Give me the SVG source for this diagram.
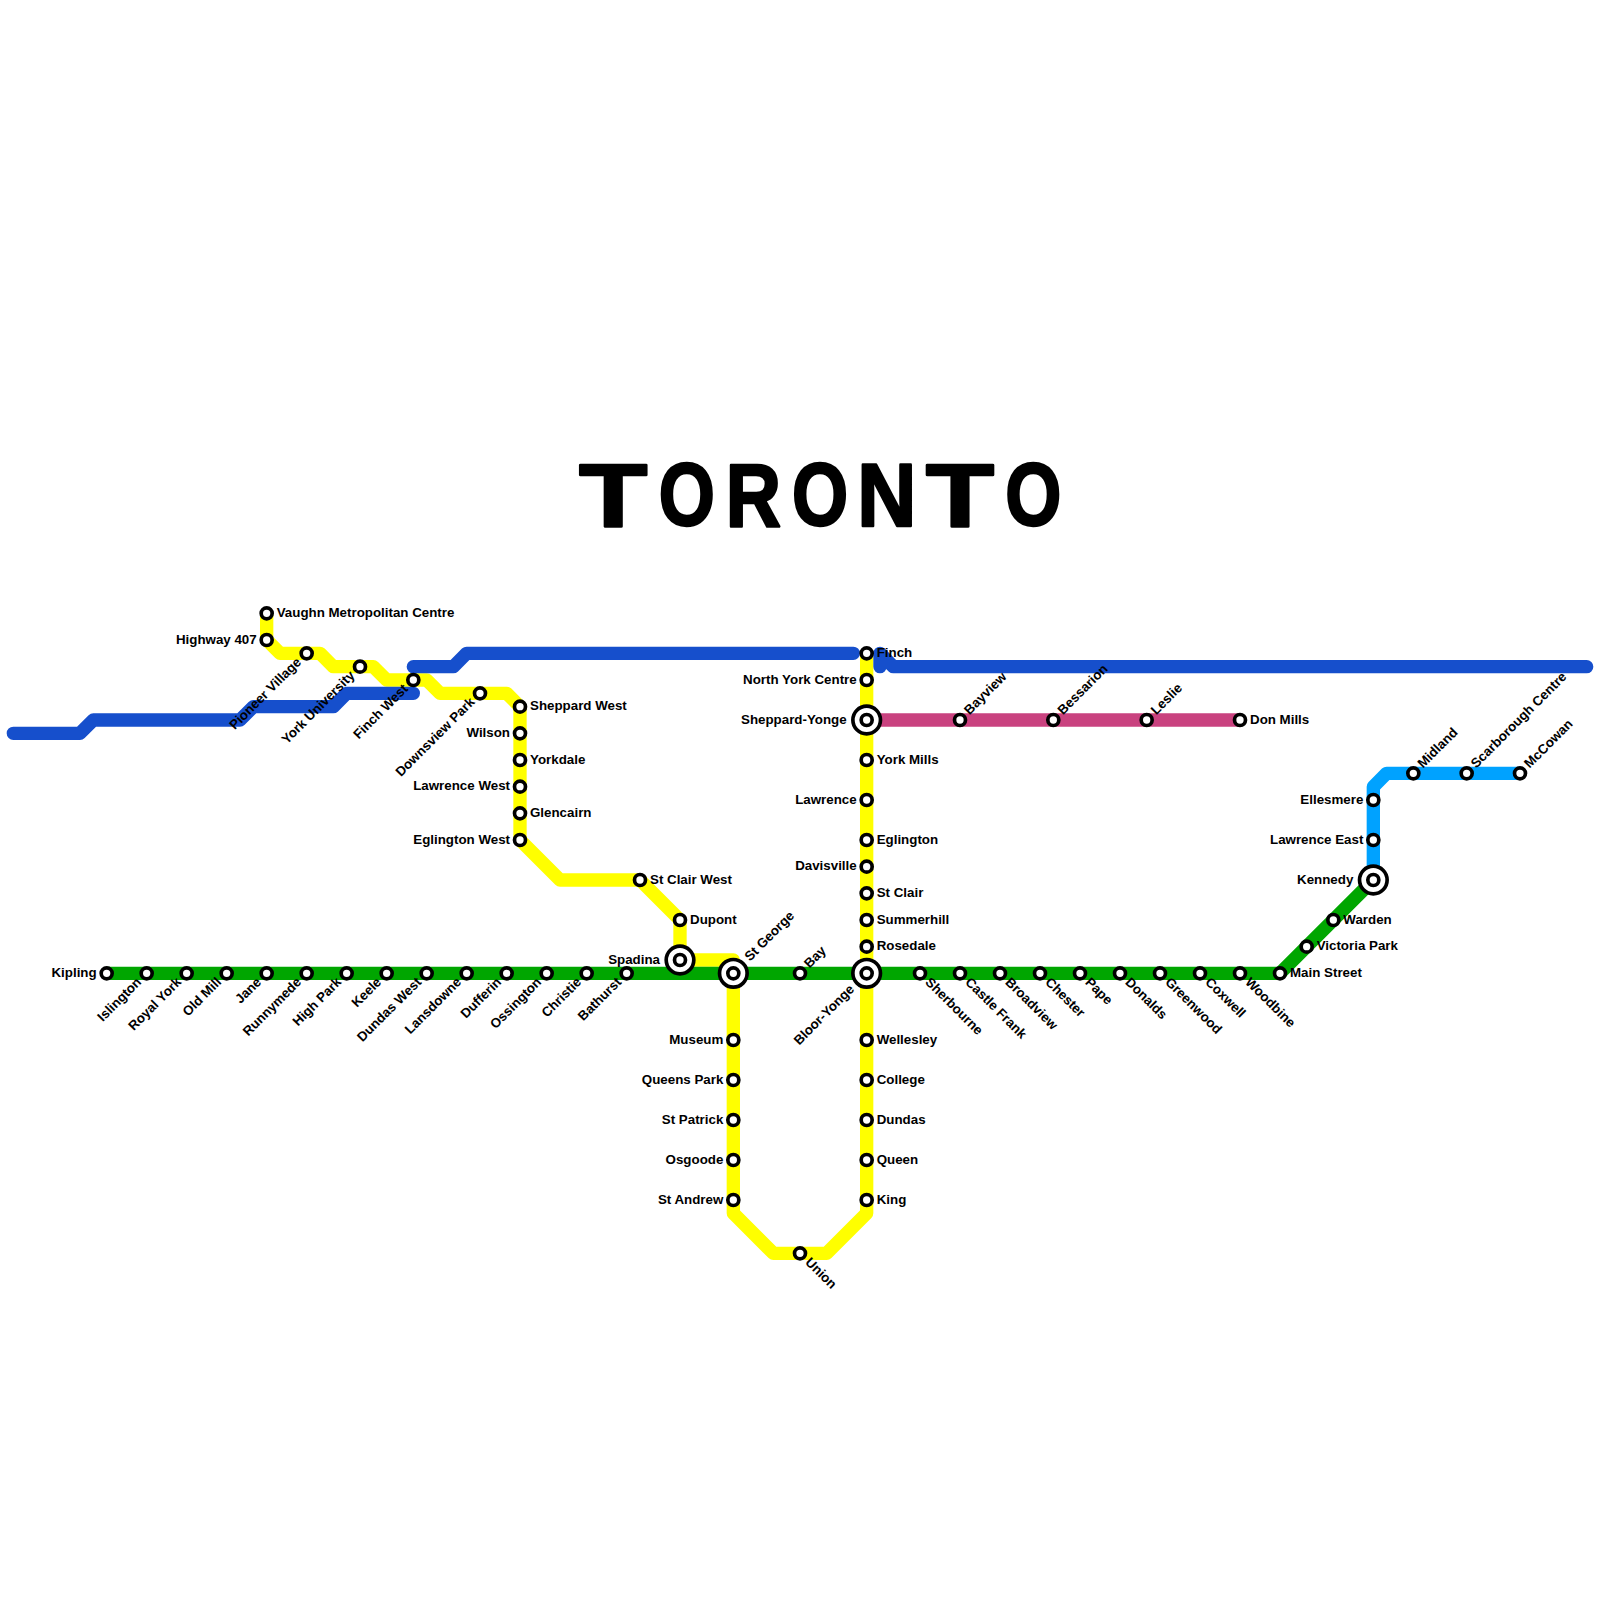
<svg xmlns="http://www.w3.org/2000/svg" width="1600" height="1600" viewBox="0 0 1600 1600">
<style>
.ln{fill:none;stroke-width:1;stroke-linejoin:round}
.st{fill:#fff;stroke:#000;stroke-width:3.67}
.l0{fill:#fff;stroke:#000;stroke-width:3.67}
text{font-family:"Liberation Sans",Arial,sans-serif;font-weight:bold;font-size:13.33px;fill:#000}
.e{text-anchor:end}
.title text{font-size:89px;text-anchor:middle;stroke:#000;stroke-width:2.5;stroke-linejoin:round}
</style>
<defs>
<circle id="s" r="5.5" class="st"/>
<g id="x"><circle r="13.8" class="l0"/><circle r="5.5" class="st"/></g>
</defs>
<rect width="1600" height="1600" fill="#fff"/>
<g id="connectors" transform="scale(13.33333)">
<polyline class="ln" stroke="#ffff00" points="20,46 20,48 21,49 24,49 25,50 28,50 29,51 32,51 33,52 38,52 39,53 39,63 42,66 48,66 51,69 51,72 55,72 55,91 58,94 62,94 65,91 65,49"/>
<polyline class="ln" stroke="#00a600" points="8,73 96,73 103,66"/>
<polyline class="ln" stroke="#c9427f" points="65,54 93,54"/>
<polyline class="ln" stroke="#00a2ff" points="103,66 103,59 104,58 114,58"/>
<polyline class="ln" stroke="#164fcc" stroke-linecap="round" points="1,55 6,55 7,54 18,54 19,53 25,53 26,52 31,52"/>
<polyline class="ln" stroke="#164fcc" stroke-linecap="round" points="31,50 34,50 35,49 64,49"/>
<polyline class="ln" stroke="#164fcc" stroke-linecap="round" points="66,50 66,49 67,50 119,50"/>
</g>
<g id="title" class="title">
<text transform="translate(613.3,525.5) scale(1.25,1)">T</text>
<text transform="translate(686.7,525) scale(.81,1)">O</text>
<text transform="translate(753.3,525.5) scale(.86,1)">R</text>
<text transform="translate(820,525) scale(.81,1)">O</text>
<text transform="translate(886.7,525.5) scale(.92,1)">N</text>
<text transform="translate(960,525.5) scale(1.25,1)">T</text>
<text transform="translate(1033.3,525) scale(.81,1)">O</text>
</g>
<g id="kipling" transform="translate(106.67,973.33)"><use href="#s"/><text class="e" x="-10" y="3.5">Kipling</text></g>
<g id="islington" transform="translate(146.67,973.33)"><use href="#s"/><text class="e" x="-10" y="3.5" transform="rotate(-45)">Islington</text></g>
<g id="royal-york" transform="translate(186.67,973.33)"><use href="#s"/><text class="e" x="-10" y="3.5" transform="rotate(-45)">Royal York</text></g>
<g id="old-mill" transform="translate(226.67,973.33)"><use href="#s"/><text class="e" x="-10" y="3.5" transform="rotate(-45)">Old Mill</text></g>
<g id="jane" transform="translate(266.67,973.33)"><use href="#s"/><text class="e" x="-10" y="3.5" transform="rotate(-45)">Jane</text></g>
<g id="runnymede" transform="translate(306.67,973.33)"><use href="#s"/><text class="e" x="-10" y="3.5" transform="rotate(-45)">Runnymede</text></g>
<g id="high-park" transform="translate(346.67,973.33)"><use href="#s"/><text class="e" x="-10" y="3.5" transform="rotate(-45)">High Park</text></g>
<g id="keele" transform="translate(386.67,973.33)"><use href="#s"/><text class="e" x="-10" y="3.5" transform="rotate(-45)">Keele</text></g>
<g id="dundas-west" transform="translate(426.67,973.33)"><use href="#s"/><text class="e" x="-10" y="3.5" transform="rotate(-45)">Dundas West</text></g>
<g id="lansdowne" transform="translate(466.67,973.33)"><use href="#s"/><text class="e" x="-10" y="3.5" transform="rotate(-45)">Lansdowne</text></g>
<g id="dufferin" transform="translate(506.67,973.33)"><use href="#s"/><text class="e" x="-10" y="3.5" transform="rotate(-45)">Dufferin</text></g>
<g id="ossington" transform="translate(546.67,973.33)"><use href="#s"/><text class="e" x="-10" y="3.5" transform="rotate(-45)">Ossington</text></g>
<g id="christie" transform="translate(586.67,973.33)"><use href="#s"/><text class="e" x="-10" y="3.5" transform="rotate(-45)">Christie</text></g>
<g id="bathurst" transform="translate(626.67,973.33)"><use href="#s"/><text class="e" x="-10" y="3.5" transform="rotate(-45)">Bathurst</text></g>
<g id="spadina" transform="translate(680,960)"><use href="#x"/><text class="e" x="-20" y="3.5">Spadina</text></g>
<g id="st-george" transform="translate(733.33,973.33)"><use href="#x"/><text x="20" y="3.5" transform="rotate(-45)">St George</text></g>
<g id="bay" transform="translate(800,973.33)"><use href="#s"/><text x="10" y="3.5" transform="rotate(-45)">Bay</text></g>
<g id="bloor-yonge" transform="translate(866.67,973.33)"><use href="#x"/><text class="e" x="-20" y="3.5" transform="rotate(-45)">Bloor-Yonge</text></g>
<g id="sherbourne" transform="translate(920,973.33)"><use href="#s"/><text x="10" y="3.5" transform="rotate(45)">Sherbourne</text></g>
<g id="castle-frank" transform="translate(960,973.33)"><use href="#s"/><text x="10" y="3.5" transform="rotate(45)">Castle Frank</text></g>
<g id="broadview" transform="translate(1000,973.33)"><use href="#s"/><text x="10" y="3.5" transform="rotate(45)">Broadview</text></g>
<g id="chester" transform="translate(1040,973.33)"><use href="#s"/><text x="10" y="3.5" transform="rotate(45)">Chester</text></g>
<g id="pape" transform="translate(1080,973.33)"><use href="#s"/><text x="10" y="3.5" transform="rotate(45)">Pape</text></g>
<g id="donalds" transform="translate(1120,973.33)"><use href="#s"/><text x="10" y="3.5" transform="rotate(45)">Donalds</text></g>
<g id="greenwood" transform="translate(1160,973.33)"><use href="#s"/><text x="10" y="3.5" transform="rotate(45)">Greenwood</text></g>
<g id="coxwell" transform="translate(1200,973.33)"><use href="#s"/><text x="10" y="3.5" transform="rotate(45)">Coxwell</text></g>
<g id="woodbine" transform="translate(1240,973.33)"><use href="#s"/><text x="10" y="3.5" transform="rotate(45)">Woodbine</text></g>
<g id="main-street" transform="translate(1280,973.33)"><use href="#s"/><text x="10" y="3.5">Main Street</text></g>
<g id="victoria-park" transform="translate(1306.67,946.67)"><use href="#s"/><text x="10" y="3.5">Victoria Park</text></g>
<g id="warden" transform="translate(1333.33,920)"><use href="#s"/><text x="10" y="3.5">Warden</text></g>
<g id="kennedy" transform="translate(1373.33,880)"><use href="#x"/><text class="e" x="-20" y="3.5">Kennedy</text></g>
<g id="lawrence-east" transform="translate(1373.33,840)"><use href="#s"/><text class="e" x="-10" y="3.5">Lawrence East</text></g>
<g id="ellesmere" transform="translate(1373.33,800)"><use href="#s"/><text class="e" x="-10" y="3.5">Ellesmere</text></g>
<g id="midland" transform="translate(1413.33,773.33)"><use href="#s"/><text x="10" y="3.5" transform="rotate(-45)">Midland</text></g>
<g id="scarborough-centre" transform="translate(1466.67,773.33)"><use href="#s"/><text x="10" y="3.5" transform="rotate(-45)">Scarborough Centre</text></g>
<g id="mccowan" transform="translate(1520,773.33)"><use href="#s"/><text x="10" y="3.5" transform="rotate(-45)">McCowan</text></g>
<g id="bayview" transform="translate(960,720)"><use href="#s"/><text x="10" y="3.5" transform="rotate(-45)">Bayview</text></g>
<g id="bessarion" transform="translate(1053.33,720)"><use href="#s"/><text x="10" y="3.5" transform="rotate(-45)">Bessarion</text></g>
<g id="leslie" transform="translate(1146.67,720)"><use href="#s"/><text x="10" y="3.5" transform="rotate(-45)">Leslie</text></g>
<g id="don-mills" transform="translate(1240,720)"><use href="#s"/><text x="10" y="3.5">Don Mills</text></g>
<g id="finch" transform="translate(866.67,653.33)"><use href="#s"/><text x="10" y="3.5">Finch</text></g>
<g id="north-york-centre" transform="translate(866.67,680)"><use href="#s"/><text class="e" x="-10" y="3.5">North York Centre</text></g>
<g id="sheppard-yonge" transform="translate(866.67,720)"><use href="#x"/><text class="e" x="-20" y="3.5">Sheppard-Yonge</text></g>
<g id="york-mills" transform="translate(866.67,760)"><use href="#s"/><text x="10" y="3.5">York Mills</text></g>
<g id="lawrence" transform="translate(866.67,800)"><use href="#s"/><text class="e" x="-10" y="3.5">Lawrence</text></g>
<g id="eglington" transform="translate(866.67,840)"><use href="#s"/><text x="10" y="3.5">Eglington</text></g>
<g id="davisville" transform="translate(866.67,866.67)"><use href="#s"/><text class="e" x="-10" y="3.5">Davisville</text></g>
<g id="st-clair" transform="translate(866.67,893.33)"><use href="#s"/><text x="10" y="3.5">St Clair</text></g>
<g id="summerhill" transform="translate(866.67,920)"><use href="#s"/><text x="10" y="3.5">Summerhill</text></g>
<g id="rosedale" transform="translate(866.67,946.67)"><use href="#s"/><text x="10" y="3.5">Rosedale</text></g>
<g id="wellesley" transform="translate(866.67,1040)"><use href="#s"/><text x="10" y="3.5">Wellesley</text></g>
<g id="college" transform="translate(866.67,1080)"><use href="#s"/><text x="10" y="3.5">College</text></g>
<g id="dundas" transform="translate(866.67,1120)"><use href="#s"/><text x="10" y="3.5">Dundas</text></g>
<g id="queen" transform="translate(866.67,1160)"><use href="#s"/><text x="10" y="3.5">Queen</text></g>
<g id="king" transform="translate(866.67,1200)"><use href="#s"/><text x="10" y="3.5">King</text></g>
<g id="union" transform="translate(800,1253.33)"><use href="#s"/><text x="10" y="3.5" transform="rotate(45)">Union</text></g>
<g id="st-andrew" transform="translate(733.33,1200)"><use href="#s"/><text class="e" x="-10" y="3.5">St Andrew</text></g>
<g id="osgoode" transform="translate(733.33,1160)"><use href="#s"/><text class="e" x="-10" y="3.5">Osgoode</text></g>
<g id="st-patrick" transform="translate(733.33,1120)"><use href="#s"/><text class="e" x="-10" y="3.5">St Patrick</text></g>
<g id="queens-park" transform="translate(733.33,1080)"><use href="#s"/><text class="e" x="-10" y="3.5">Queens Park</text></g>
<g id="museum" transform="translate(733.33,1040)"><use href="#s"/><text class="e" x="-10" y="3.5">Museum</text></g>
<g id="dupont" transform="translate(680,920)"><use href="#s"/><text x="10" y="3.5">Dupont</text></g>
<g id="st-clair-west" transform="translate(640,880)"><use href="#s"/><text x="10" y="3.5">St Clair West</text></g>
<g id="eglington-west" transform="translate(520,840)"><use href="#s"/><text class="e" x="-10" y="3.5">Eglington West</text></g>
<g id="glencairn" transform="translate(520,813.33)"><use href="#s"/><text x="10" y="3.5">Glencairn</text></g>
<g id="lawrence-west" transform="translate(520,786.67)"><use href="#s"/><text class="e" x="-10" y="3.5">Lawrence West</text></g>
<g id="yorkdale" transform="translate(520,760)"><use href="#s"/><text x="10" y="3.5">Yorkdale</text></g>
<g id="wilson" transform="translate(520,733.33)"><use href="#s"/><text class="e" x="-10" y="3.5">Wilson</text></g>
<g id="sheppard-west" transform="translate(520,706.67)"><use href="#s"/><text x="10" y="3.5">Sheppard West</text></g>
<g id="downsview-park" transform="translate(480,693.33)"><use href="#s"/><text class="e" x="-10" y="3.5" transform="rotate(-45)">Downsview Park</text></g>
<g id="finch-west" transform="translate(413.33,680)"><use href="#s"/><text class="e" x="-10" y="3.5" transform="rotate(-45)">Finch West</text></g>
<g id="york-university" transform="translate(360,666.67)"><use href="#s"/><text class="e" x="-10" y="3.5" transform="rotate(-45)">York University</text></g>
<g id="pioneer-village" transform="translate(306.67,653.33)"><use href="#s"/><text class="e" x="-10" y="3.5" transform="rotate(-45)">Pioneer Village</text></g>
<g id="highway-407" transform="translate(266.67,640)"><use href="#s"/><text class="e" x="-10" y="3.5">Highway 407</text></g>
<g id="vaughn" transform="translate(266.67,613.33)"><use href="#s"/><text x="10" y="3.5">Vaughn Metropolitan Centre</text></g>
</svg>
